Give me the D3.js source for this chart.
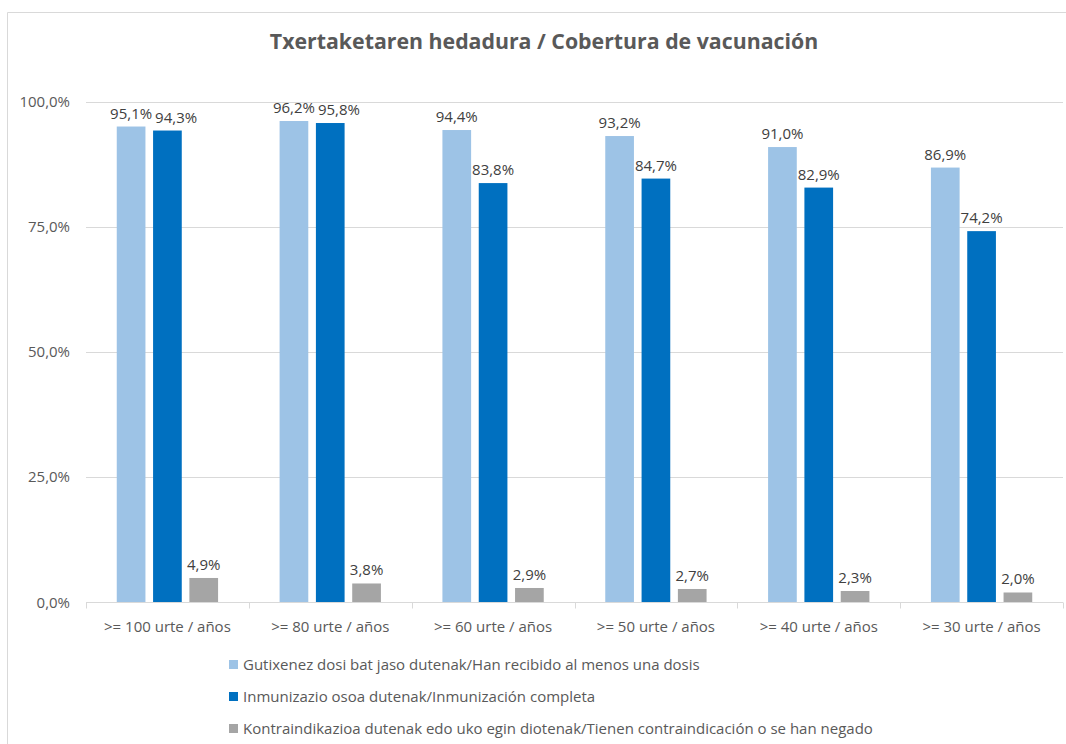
<!DOCTYPE html>
<html><head><meta charset="utf-8">
<script src="https://cdn.jsdelivr.net/npm/d3@7"></script>
<style>body{margin:0;background:#fff}svg{display:block}text{font-family:"Open Sans",sans-serif}</style>
</head><body><svg id="c" width="1066" height="744"></svg>
<script>
const categories = [">= 100 urte / años", ">= 80 urte / años", ">= 60 urte / años", ">= 50 urte / años", ">= 40 urte / años", ">= 30 urte / años"];
const seriesNames = ["Gutixenez dosi bat jaso dutenak/Han recibido al menos una dosis", "Inmunizazio osoa dutenak/Inmunización completa", "Kontraindikazioa dutenak edo uko egin diotenak/Tienen contraindicación o se han negado"];
const atLeastOne = [95.1, 96.2, 94.4, 93.2, 91.0, 86.9];
const complete = [94.3, 95.8, 83.8, 84.7, 82.9, 74.2];
const refused = [4.9, 3.8, 2.9, 2.7, 2.3, 2.0];
const yTicks = [0, 25, 50, 75, 100];
const colors = ["#9DC3E6", "#0070C0", "#A5A5A5"];
const title = "Txertaketaren hedadura / Cobertura de vacunación";

const series = [atLeastOne, complete, refused];
const svg = d3.select("#c");
const fmt = v => v.toFixed(1).replace(".", ",") + "%";
const FS = 15;

svg.append("path").attr("d","M7.5,744 V12.5 H1066").attr("fill","none").attr("stroke","#D9D9D9").attr("stroke-width",1);

svg.append("text").attr("x",544).attr("y",49).attr("text-anchor","middle")
  .attr("font-size",21.3).attr("font-weight",700).attr("fill","#595959").text(title);

const x0 = d3.scaleBand().domain(categories).range([86,1063]).paddingInner(0).paddingOuter(0);
const x1 = d3.scaleBand().domain([0,1,2]).range([0, x0.bandwidth()]).paddingInner(0.21).paddingOuter(0.847);
const y = d3.scaleLinear().domain([0,100]).range([602.5,102]);

svg.append("g").selectAll("line").data(yTicks.filter(t=>t>0)).join("line")
  .attr("x1",86).attr("x2",1063).attr("y1",d=>Math.round(y(d))+0.5).attr("y2",d=>Math.round(y(d))+0.5)
  .attr("stroke","#D9D9D9").attr("stroke-width",1);

svg.append("g").selectAll("text").data(yTicks).join("text")
  .attr("x",70).attr("y",d=>y(d)+5).attr("text-anchor","end").attr("font-size",FS).attr("fill","#595959")
  .text(d=>d.toFixed(1).replace(".",",")+"%");

const labelNodes = [];
series.forEach((s,si)=>{
  const g = svg.append("g");
  g.selectAll("rect").data(s).join("rect")
    .attr("x",(d,i)=>x0(categories[i])+x1(si)).attr("width",x1.bandwidth())
    .attr("y",d=>y(d)).attr("height",d=>y(0)-y(d)).attr("fill",colors[si]);
  labelNodes[si] = g.selectAll("text").data(s).join("text")
    .attr("x",(d,i)=>x0(categories[i])+x1(si)+x1.bandwidth()/2).attr("y",d=>y(d)-8)
    .attr("text-anchor","middle").attr("font-size",FS).attr("fill","#404040").text(fmt).nodes();
});
for (let si=1; si<3; si++) {
  labelNodes[si].forEach((n,i)=>{
    const p = labelNodes[si-1][i].getBBox(), b = n.getBBox();
    const vOverlap = !(b.y > p.y+p.height || p.y > b.y+b.height);
    if (vOverlap && b.x < p.x+p.width+3) {
      n.setAttribute("x", +n.getAttribute("x") + (p.x+p.width+3-b.x));
    }
  });
}

const ax = svg.append("g").attr("transform","translate(0,602.5)");
ax.append("line").attr("x1",86).attr("x2",1063).attr("stroke","#D9D9D9");
ax.selectAll("line.t").data(d3.range(7)).join("line").attr("class","t")
  .attr("x1",i=>Math.round(86+i*x0.step())+0.5).attr("x2",i=>Math.round(86+i*x0.step())+0.5)
  .attr("y1",0).attr("y2",6).attr("stroke","#D9D9D9");
ax.selectAll("text").data(categories).join("text")
  .attr("x",d=>x0(d)+x0.bandwidth()/2).attr("y",29).attr("text-anchor","middle")
  .attr("font-size",FS).attr("fill","#595959").text(d=>d);

const lg = svg.append("g");
seriesNames.forEach((n,i)=>{
  const cy = 665 + i*32;
  lg.append("rect").attr("x",229).attr("y",cy-5).attr("width",9).attr("height",9).attr("fill",colors[i]);
  lg.append("text").attr("x",243).attr("y",cy+5).attr("font-size",FS).attr("fill","#595959").text(n);
});
</script></body></html>
